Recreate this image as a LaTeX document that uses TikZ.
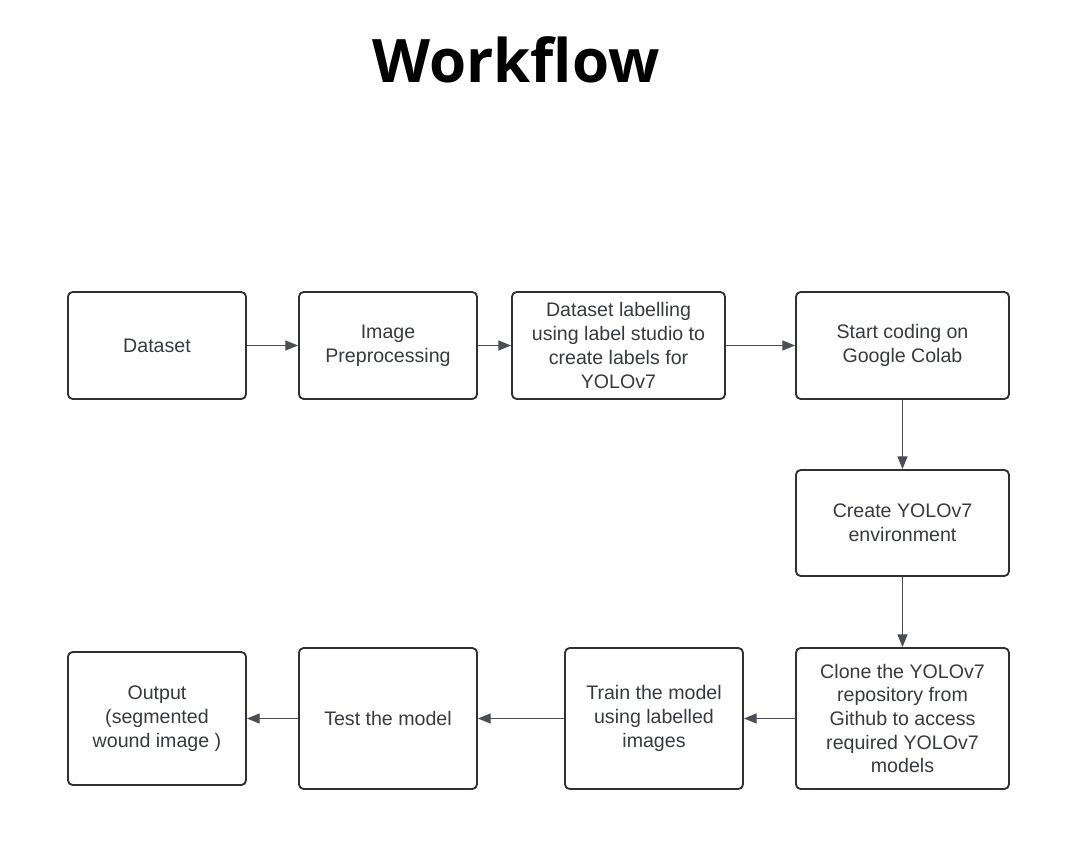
\documentclass[tikz,border=0pt]{standalone}
\usepackage{fontspec}
\setmainfont{Liberation Sans}
\newfontfamily\titlefont[Ligatures=NoCommon]{Open Sans}
\usetikzlibrary{arrows.meta}
\definecolor{boxline}{HTML}{2E3236}
\definecolor{txt}{HTML}{363B41}
\definecolor{arr}{HTML}{4A4F56}
\tikzset{
  stepbox/.style={draw=boxline, line width=1.4pt, rounded corners=3.5pt, fill=white,
    inner sep=0pt, align=center, text=txt, font=\fontsize{14.7pt}{17.8pt}\selectfont},
  conn/.style={draw=arr, line width=0.8pt, -{Triangle[length=9.5pt,width=7.5pt]}}
}
\newcommand{\mybox}[6]{% name, x1, y1, x2, y2, text
  \node[stepbox, minimum width={(#4-#2)*0.75pt}, minimum height={(#5-#3)*0.75pt}]
    (#1) at ({(#2+#4)/2},{(#3+#5)/2}) {#6};}
\begin{document}
\begin{tikzpicture}[x=0.75pt,y=-0.75pt]
\useasboundingbox (0,0) rectangle (1083,855);
\node[font=\titlefont\bfseries\fontsize{45pt}{50pt}\selectfont, anchor=base] (title) at (516,83) {Workflow};
\mybox{ds}{68}{292}{246}{399}{Dataset}
\mybox{ip}{299}{292}{477}{399}{Image\\Preprocessing}
\mybox{dl}{512}{292}{725}{399}{Dataset labelling\\using label studio to\\create labels for\\YOLOv7}
\mybox{sc}{796}{292}{1009}{399}{Start coding on\\Google Colab}
\mybox{cy}{796}{470}{1009}{576}{Create YOLOv7\\environment}
\mybox{cl}{796}{648}{1009}{789}{Clone the YOLOv7\\repository from\\Github to access\\required YOLOv7\\models}
\mybox{tr}{565}{648}{743}{789}{Train the model\\using labelled\\images}
\mybox{te}{299}{648}{477}{789}{Test the model}
\mybox{op}{68}{652}{246}{785}{Output\\(segmented\\wound image )}
\draw[conn] (ds) -- (ip);
\draw[conn] (ip) -- (dl);
\draw[conn] (dl) -- (sc);
\draw[conn] (sc) -- (cy);
\draw[conn] (cy) -- (cl);
\draw[conn] (cl) -- (tr);
\draw[conn] (tr) -- (te);
\draw[conn] (te) -- (op);
\end{tikzpicture}
\end{document}
